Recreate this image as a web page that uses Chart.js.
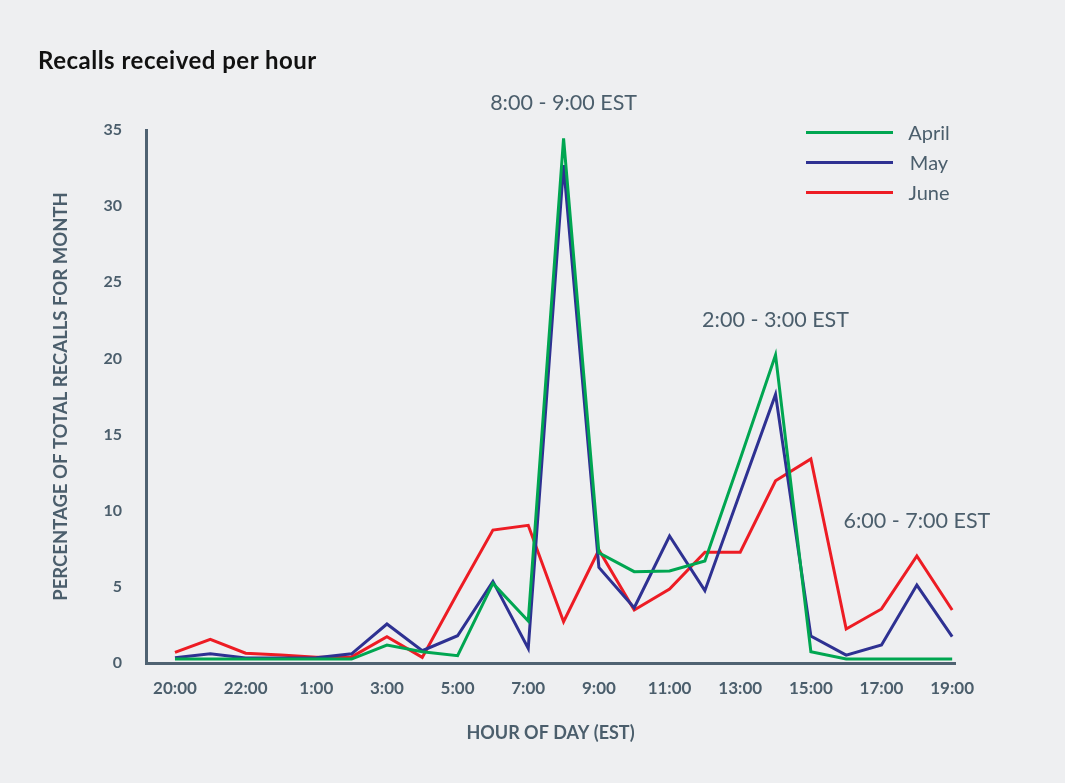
<!DOCTYPE html>
<html>
<head>
<meta charset="utf-8">
<script src="https://cdn.jsdelivr.net/npm/chart.js@4.4.1/dist/chart.umd.min.js"></script>
<style>
  body { margin: 0; background: #eeeff1; font-family: Lato, "Open Sans", sans-serif; }
  #wrap { position: relative; width: 1065px; height: 783px; }
  #title { position: absolute; left: 38px; top: 45px; font-size: 24px; font-weight: bold; color: #111; letter-spacing: 0.5px; }
  #legend { position: absolute; left: 806px; top: 117px; }
  .item { height: 30px; display: flex; align-items: center; }
  .item .ln { width: 87px; height: 3px; }
  .item .tx { width: 72px; text-align: center; font-size: 20px; color: #4b5e6c; }
  canvas { position: absolute; left: 0; top: 0; }
</style>
</head>
<body>
<div id="wrap">
  <canvas id="recalls-chart" width="1065" height="783"></canvas>
  <div id="title">Recalls received per hour</div>
  <div id="legend"></div>
</div>
<script>
/*=======================================
 data
========================================*/
var hours = ['20:00', '21:00', '22:00', '23:00', '1:00', '2:00', '3:00', '4:00', '5:00', '6:00',
             '7:00', '8:00', '9:00', '10:00', '11:00', '12:00', '13:00', '14:00', '15:00', '16:00',
             '17:00', '18:00', '19:00'];
var april = [0.26, 0.26, 0.26, 0.26, 0.26, 0.26, 1.18, 0.74, 0.48, 5.23, 2.76, 34.45, 7.24, 6.0,
             6.04, 6.7, 13.4, 20.22, 0.74, 0.26, 0.26, 0.26, 0.26];
var may = [0.35, 0.6, 0.33, 0.33, 0.35, 0.6, 2.56, 0.81, 1.79, 5.36, 0.96, 32.7, 6.28, 3.63,
           8.34, 4.75, 11.2, 17.64, 1.77, 0.52, 1.18, 5.12, 1.73];
var june = [0.7, 1.56, 0.64, 0.53, 0.37, 0.4, 1.73, 0.37, 4.6, 8.73, 9.04, 2.71, 7.42, 3.48,
            4.86, 7.27, 7.27, 11.97, 13.4, 2.23, 3.55, 7.03, 3.48];
var yTicks = [0, 5, 10, 15, 20, 25, 30, 35];

var textColor = '#4b5e6c';
var axisColor = '#4f6272';

// turn a series into {x, y} points on the index axis
function toPoints(values) {
   return values.map((v, i) => ({ x: i, y: v }));
}

// peak labels, placed at the hour index they describe
var peakNotes = [
   { text: '8:00 - 9:00 EST', index: 11, value: 36.8 },
   { text: '2:00 - 3:00 EST', index: 17, value: 22.5 },
   { text: '6:00 - 7:00 EST', index: 21, value: 9.3 }
];

const notesPlugin = {
   id: 'notes',
   afterDatasetsDraw(chart) {
      const ctx = chart.ctx;
      const xs = chart.scales.x;
      const ys = chart.scales.y;
      ctx.save();
      ctx.font = '21.5px Lato, "Open Sans", sans-serif';
      ctx.fillStyle = textColor;
      ctx.textAlign = 'center';
      ctx.textBaseline = 'middle';
      peakNotes.forEach(n => {
         ctx.fillText(n.text, xs.getPixelForValue(n.index), ys.getPixelForValue(n.value));
      });
      ctx.restore();
   }
};

var ctx = document.getElementById('recalls-chart');

var recallsChart = new Chart(ctx, {
   type: 'line',
   data: {
      datasets: [
         { label: 'April', data: toPoints(april), borderColor: '#00a651' },
         { label: 'May', data: toPoints(may), borderColor: '#2e3192' },
         { label: 'June', data: toPoints(june), borderColor: '#ed1c24' }
      ]
   },
   options: {
      responsive: false,
      animation: false,
      devicePixelRatio: 1,
      layout: { padding: { left: 50, right: 110, top: 130, bottom: 39 } },
      elements: {
         line: { borderWidth: 3, tension: 0 },
         point: { radius: 0 }
      },
      scales: {
         x: {
            type: 'linear',
            min: -0.82,
            max: 22.08,
            grid: { display: false, drawTicks: false },
            border: { display: true, color: axisColor, width: 3 },
            afterFit: scale => { scale.height = 81; },
            ticks: {
               stepSize: 2,
               includeBounds: false,
               autoSkip: false,
               maxRotation: 0,
               padding: 15,
               color: textColor,
               font: { family: 'Lato', size: 17, weight: 'bold' },
               callback: v => hours[v] ?? ''
            },
            title: {
               display: true,
               text: 'HOUR OF DAY (EST)',
               color: textColor,
               padding: 0,
               font: { family: 'Lato', size: 18, weight: 'bold' }
            }
         },
         y: {
            min: yTicks[0],
            max: yTicks[yTicks.length - 1],
            grid: { display: false, drawTicks: false },
            border: { display: true, color: axisColor, width: 3 },
            afterFit: scale => { scale.width = 96; },
            afterBuildTicks: scale => { scale.ticks = yTicks.map(v => ({ value: v })); },
            ticks: {
               padding: 24,
               color: textColor,
               font: { family: 'Lato', size: 16, weight: 'bold' }
            },
            title: {
               display: true,
               text: 'PERCENTAGE OF TOTAL RECALLS FOR MONTH',
               color: textColor,
               padding: 0,
               font: { family: 'Lato', size: 18.5, weight: 'bold' }
            }
         }
      },
      plugins: {
         legend: { display: false },
         tooltip: { enabled: false }
      }
   },
   plugins: [notesPlugin]
});

// legend built from the datasets
const legendBox = document.getElementById('legend');
recallsChart.data.datasets.forEach(ds => {
   legendBox.innerHTML += `
      <div class="item">
         <div class="ln" style="background:${ds.borderColor}"></div>
         <div class="tx">${ds.label}</div>
      </div>`;
});
</script>
</body>
</html>
